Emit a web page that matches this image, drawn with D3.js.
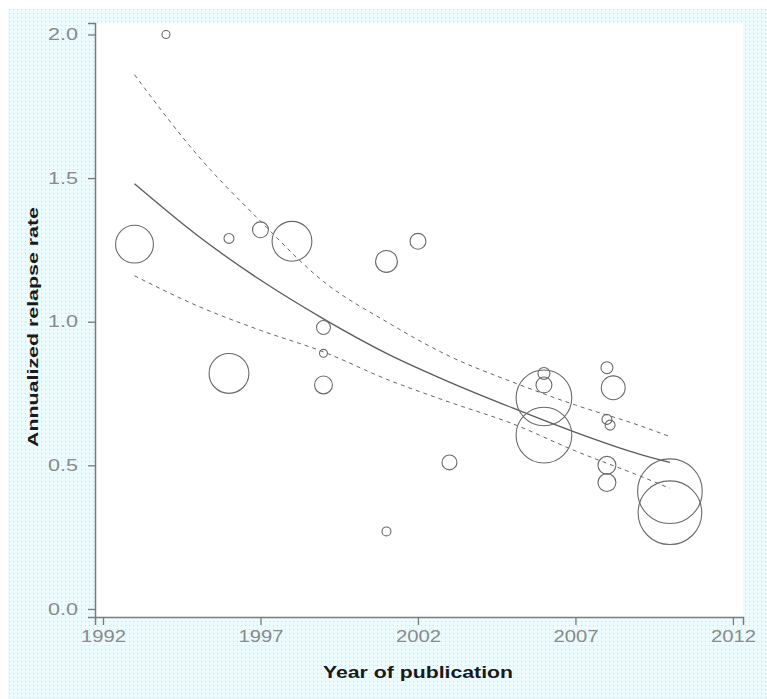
<!DOCTYPE html>
<html><head><meta charset="utf-8">
<script src="https://cdn.jsdelivr.net/npm/d3@7"></script>
<style>html,body{margin:0;padding:0;background:#fff;}svg{display:block;}</style>
</head><body>
<svg id="chart" width="767" height="699"></svg>
<script>
// Study points: publication year, annualized relapse rate, study weight (bubble area)
const years  = [1994, 1993, 1996, 1997, 1998, 1996, 1999, 1999, 1999, 2001, 2002, 2001, 2003,
                2006, 2006, 2006, 2006, 2008, 2008.2, 2008, 2008.1, 2008, 2008, 2010, 2010];
const rates  = [2.00, 1.27, 1.29, 1.32, 1.28, 0.82, 0.98, 0.89, 0.78, 1.21, 1.28, 0.27, 0.51,
                0.82, 0.78, 0.735, 0.605, 0.84, 0.77, 0.66, 0.64, 0.50, 0.44, 0.41, 0.335];
const weights= [16, 361, 25, 64, 400, 400, 49, 16, 81, 121, 64, 20, 56,
                36, 64, 784, 784, 36, 144, 25, 25, 81, 81, 1056, 1024];

// Fitted meta-regression curve and its confidence band
const fitYears = [1993, 1995, 1997, 1999, 2001, 2003, 2005, 2007, 2009, 2010];
const fitRate  = [1.48, 1.30, 1.145, 1.01, 0.89, 0.79, 0.70, 0.615, 0.54, 0.51];
const upperCI  = [1.86, 1.58, 1.35, 1.14, 1.00, 0.88, 0.79, 0.71, 0.64, 0.60];
const lowerCI  = [1.16, 1.055, 0.97, 0.895, 0.80, 0.72, 0.645, 0.55, 0.465, 0.42];

const xTicks = [1992, 1997, 2002, 2007, 2012];
const yTicks = [0.0, 0.5, 1.0, 1.5, 2.0];
const xTitle = "Year of publication";
const yTitle = "Annualized relapse rate";

const svg = d3.select("#chart");
const defs = svg.append("defs");
const pat = defs.append("pattern").attr("id","dots").attr("width",4).attr("height",4)
  .attr("patternUnits","userSpaceOnUse");
pat.append("rect").attr("width",4).attr("height",4).attr("fill","#ecfcfe");
pat.append("rect").attr("x",1).attr("y",1).attr("width",1).attr("height",1).attr("fill","#d2d2f2");

svg.append("rect").attr("x",8).attr("y",9).attr("width",759).attr("height",690).attr("fill","url(#dots)");

const x = d3.scaleLinear().domain([1991.746, 2012.32]).range([95, 743]);
const y = d3.scaleLinear().domain([-0.028, 2.04]).range([617, 23]);
const r = d3.scaleSqrt().domain([0, 1100]).range([0, 33]);

// white plotting panel
svg.append("rect").attr("x",x.range()[0]).attr("y",y.range()[1])
  .attr("width",x.range()[1]-x.range()[0]).attr("height",y.range()[0]-y.range()[1])
  .attr("fill","#fff");

const axisColor = "#7a7a7a";
// X axis
const gx = svg.append("g").attr("transform",`translate(0,${y.range()[0]})`)
  .call(d3.axisBottom(x).tickValues(xTicks).tickFormat(d3.format("d")).tickSize(8).tickPadding(6));
gx.select(".domain").attr("stroke",axisColor).attr("stroke-width",1.5);
gx.selectAll(".tick line").attr("stroke",axisColor).attr("stroke-width",1.3);
gx.selectAll(".tick text").attr("fill","#8a8a8a").attr("font-family","Liberation Sans, Arial, sans-serif")
  .attr("font-size",16).attr("textLength",45).attr("lengthAdjust","spacingAndGlyphs");

// Y axis
const gy = svg.append("g").attr("transform",`translate(${x.range()[0]},0)`)
  .call(d3.axisLeft(y).tickValues(yTicks).tickFormat(d3.format(".1f")).tickSize(7).tickPadding(10));
gy.select(".domain").attr("stroke",axisColor).attr("stroke-width",1.5);
gy.selectAll(".tick line").attr("stroke",axisColor).attr("stroke-width",1.3);
gy.selectAll(".tick text").attr("fill","#8a8a8a").attr("font-family","Liberation Sans, Arial, sans-serif")
  .attr("font-size",16).attr("textLength",30).attr("lengthAdjust","spacingAndGlyphs");

// Titles
svg.append("text").attr("x",418).attr("y",678).attr("text-anchor","middle")
  .attr("font-family","Liberation Sans, Arial, sans-serif").attr("font-weight","bold")
  .attr("font-size",16).attr("fill","#1a1a1a")
  .attr("textLength",190).attr("lengthAdjust","spacingAndGlyphs").text(xTitle);
svg.append("text").attr("transform","translate(38,327) rotate(-90)").attr("text-anchor","middle")
  .attr("font-family","Liberation Sans, Arial, sans-serif").attr("font-weight","bold")
  .attr("font-size",15).attr("fill","#1a1a1a")
  .attr("textLength",240).attr("lengthAdjust","spacingAndGlyphs").text(yTitle);

// Curves
const line = (vals) => d3.line().x((d,i)=>x(fitYears[i])).y(d=>y(d)).curve(d3.curveMonotoneX)(vals);
svg.append("path").attr("d",line(upperCI)).attr("fill","none").attr("stroke","#666")
  .attr("stroke-width",1).attr("stroke-dasharray","4,4");
svg.append("path").attr("d",line(lowerCI)).attr("fill","none").attr("stroke","#666")
  .attr("stroke-width",1).attr("stroke-dasharray","4,4");
svg.append("path").attr("d",line(fitRate)).attr("fill","none").attr("stroke","#5a5a5a")
  .attr("stroke-width",1.3);

// Bubbles
svg.append("g").selectAll("circle").data(years).join("circle")
  .attr("cx",(d,i)=>x(years[i])).attr("cy",(d,i)=>y(rates[i])).attr("r",(d,i)=>r(weights[i]))
  .attr("fill","none").attr("stroke","#6a6a6a").attr("stroke-width",1.1);
</script>
</body></html>
